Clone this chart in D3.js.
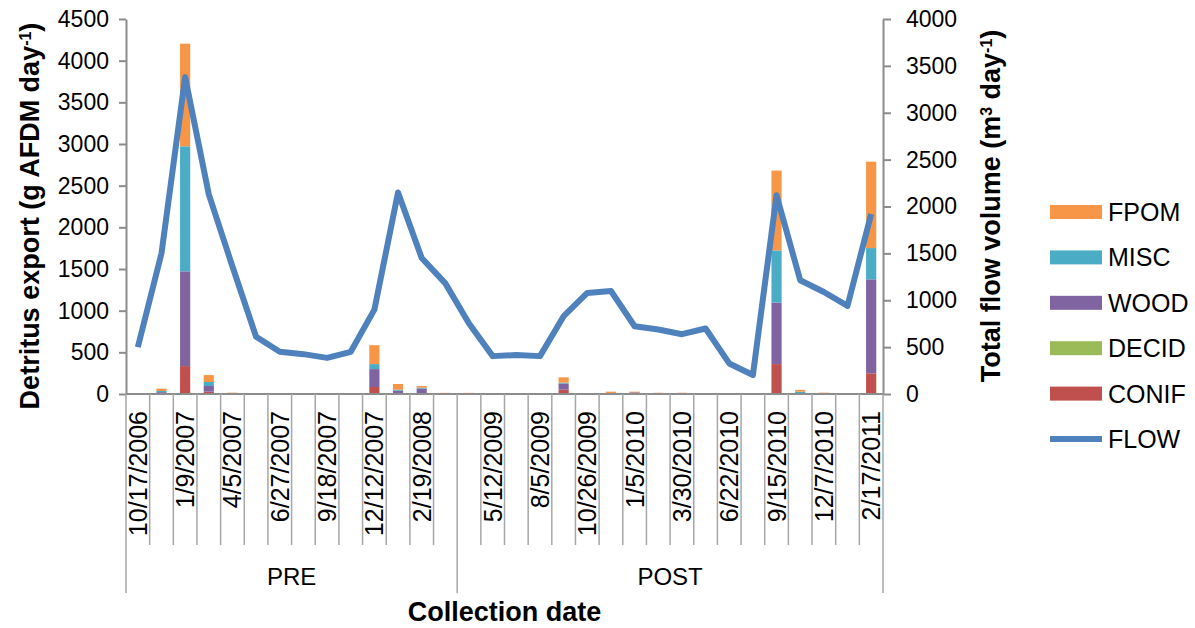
<!DOCTYPE html>
<html>
<head>
<meta charset="utf-8">
<script src="https://cdn.jsdelivr.net/npm/d3@7/dist/d3.min.js"></script>
<style>
  body { margin: 0; background: #fff; }
  text { font-family: "Liberation Sans", Arial, sans-serif; fill: #000; }
</style>
</head>
<body>
<svg id="mainSvg" width="1195" height="628"></svg>
<script>
// collection dates, every other one is printed on the axis
var dateLabels = ["10/17/2006","","1/9/2007","","4/5/2007","","6/27/2007","","9/18/2007","","12/12/2007","","2/19/2008","",
                  "","5/12/2009","","8/5/2009","","10/26/2009","","1/5/2010","","3/30/2010","","6/22/2010","","9/15/2010","","12/7/2010","","2/17/2011"];
var groupNames = ["PRE","POST"];
var groupSizes = [14,18];

// detritus export (g AFDM / day)
var conif = [0,6,335,28,0,0,0,0,0,0,84,10,8,0,0,0,0,0,52,0,0,2,0,0,0,0,0,359,4,0,0,248];
var decid = [0,0,0,0,0,0,0,0,0,0,0,0,0,0,0,0,0,0,0,0,0,0,0,0,0,0,0,0,0,0,0,0];
var wood  = [0,16,1137,68,0,0,0,0,0,0,215,30,58,0,0,0,0,0,72,0,0,18,0,0,0,0,0,738,4,0,0,1128];
var misc  = [0,14,1500,48,0,0,0,0,0,0,60,12,10,0,0,0,0,0,12,0,0,0,0,0,0,0,0,626,20,0,0,375];
var fpom  = [0,28,1232,83,16,0,0,0,0,0,227,68,20,14,14,0,0,0,64,0,28,8,15,15,0,0,0,958,22,16,0,1037];

// total flow volume (m3 / day)
var flow = [500,1500,3380,2130,1360,610,450,425,385,450,900,2150,1450,1180,752,404,415,404,830,1078,1099,723,688,638,699,326,202,2120,1213,1088,940,1920];

var leftTicks = [0,500,1000,1500,2000,2500,3000,3500,4000,4500];
var rightTicks = [0,500,1000,1500,2000,2500,3000,3500,4000];

var seriesNames = ["CONIF","DECID","WOOD","MISC","FPOM"];
var seriesColors = {CONIF:"#C0504D", DECID:"#9BBB59", WOOD:"#8064A2", MISC:"#4BACC6", FPOM:"#F79646"};
var flowColor = "#4F81BD";
var axisColor = "#8c8c8c";

var plotLeft = 126, plotRight = 883, plotTop = 19, plotBottom = 394;

var svg = d3.select("#mainSvg");

var xScale = d3.scaleBand()
    .domain(d3.range(dateLabels.length))
    .range([plotLeft, plotRight])
    .padding(0);

var yLeft = d3.scaleLinear().domain([0,4500]).range([plotBottom, plotTop]);
var yRight = d3.scaleLinear().domain([0,4000]).range([plotBottom, plotTop]);

function drawBars(){
    var table = dateLabels.map(function(d,i){
        return {CONIF:conif[i], DECID:decid[i], WOOD:wood[i], MISC:misc[i], FPOM:fpom[i]};
    });
    var stacked = d3.stack().keys(seriesNames)(table);
    var barW = xScale.bandwidth() * 0.43;

    var layers = svg.selectAll(".layer")
        .data(stacked)
        .enter()
        .append("g")
        .attr("class","layer")
        .attr("fill",function(d){ return seriesColors[d.key]; });

    layers.selectAll("rect")
        .data(function(d){ return d; })
        .enter()
        .append("rect")
        .attr("x",function(d,i){ return xScale(i) + xScale.bandwidth()/2 - barW/2; })
        .attr("width",barW)
        .attr("y",function(d){ return yLeft(d[1]); })
        .attr("height",function(d){ return Math.max(0, yLeft(d[0]) - yLeft(d[1])); });
}

function drawFlow(){
    var line = d3.line()
        .x(function(d,i){ return xScale(i) + xScale.bandwidth()/2; })
        .y(function(d){ return yRight(d); });

    svg.append("path")
        .datum(flow)
        .attr("d",line)
        .attr("fill","none")
        .attr("stroke",flowColor)
        .attr("stroke-width",6)
        .attr("stroke-linejoin","round");
}

function drawAxes(){
    var leftAxis = svg.append("g")
        .attr("transform","translate(" + plotLeft + ",0)")
        .call(d3.axisLeft(yLeft).tickValues(leftTicks).tickFormat(d3.format("d")).tickSize(7).tickPadding(10).tickSizeOuter(0));
    var rightAxis = svg.append("g")
        .attr("transform","translate(" + plotRight + ",0)")
        .call(d3.axisRight(yRight).tickValues(rightTicks).tickFormat(d3.format("d")).tickSize(8).tickPadding(15).tickSizeOuter(0));

    [leftAxis, rightAxis].forEach(function(ax){
        ax.select(".domain").attr("stroke",axisColor).attr("stroke-width",2);
        ax.selectAll(".tick line").attr("stroke",axisColor).attr("stroke-width",2);
        ax.selectAll(".tick text")
            .attr("font-size","23px")
            .attr("font-family","Liberation Sans, Arial, sans-serif")
            .attr("fill","#000");
    });

    // category axis line
    svg.append("line")
        .attr("x1",plotLeft).attr("x2",plotRight)
        .attr("y1",plotBottom).attr("y2",plotBottom)
        .attr("stroke",axisColor)
        .attr("stroke-width",2);

    // inner category dividers
    var edges = d3.range(dateLabels.length + 1);
    svg.selectAll(".catTick")
        .data(edges)
        .enter()
        .append("line")
        .attr("class","catTick")
        .attr("x1",function(d){ return d < dateLabels.length ? xScale(d) : plotRight; })
        .attr("x2",function(d){ return d < dateLabels.length ? xScale(d) : plotRight; })
        .attr("y1",plotBottom)
        .attr("y2",545)
        .attr("stroke","#a6a6a6")
        .attr("stroke-width",1.5);

    svg.selectAll(".dateLabel")
        .data(dateLabels)
        .enter()
        .append("text")
        .attr("class","dateLabel")
        .attr("transform",function(d,i){
            return "translate(" + (xScale(i) + xScale.bandwidth()/2) + ",411) rotate(-90)";
        })
        .attr("dy","0.36em")
        .attr("text-anchor","end")
        .attr("font-size","25px")
        .text(function(d){ return d; });

    // group level
    var groupStarts = [];
    var acc = 0;
    groupSizes.forEach(function(s){ groupStarts.push(acc); acc += s; });

    var groupEdges = groupStarts.concat([acc]);
    svg.selectAll(".groupTick")
        .data(groupEdges)
        .enter()
        .append("line")
        .attr("class","groupTick")
        .attr("x1",function(d){ return d < dateLabels.length ? xScale(d) : plotRight; })
        .attr("x2",function(d){ return d < dateLabels.length ? xScale(d) : plotRight; })
        .attr("y1",545)
        .attr("y2",593)
        .attr("stroke","#a6a6a6")
        .attr("stroke-width",1.5);

    svg.selectAll(".groupLabel")
        .data(groupNames)
        .enter()
        .append("text")
        .attr("class","groupLabel")
        .attr("x",function(d,i){
            var a = xScale(groupStarts[i]);
            var b = xScale(groupStarts[i] + groupSizes[i] - 1) + xScale.bandwidth();
            return (a + b) / 2;
        })
        .attr("y",585)
        .attr("text-anchor","middle")
        .attr("font-size","24px")
        .text(function(d){ return d; });
}

function drawTitles(){
    var leftTitle = svg.append("text")
        .attr("transform","translate(39,216) rotate(-90)")
        .attr("text-anchor","middle")
        .attr("font-size","27px")
        .attr("font-weight","bold");
    leftTitle.append("tspan").text("Detritus export (g AFDM day");
    leftTitle.append("tspan").attr("baseline-shift","super").attr("font-size","16px").text("-1");
    leftTitle.append("tspan").text(")");

    var rightTitle = svg.append("text")
        .attr("transform","translate(1000,206) rotate(-90)")
        .attr("text-anchor","middle")
        .attr("font-size","27px")
        .attr("font-weight","bold");
    rightTitle.append("tspan").text("Total flow volume (m");
    rightTitle.append("tspan").attr("baseline-shift","super").attr("font-size","16px").text("3");
    rightTitle.append("tspan").text(" day");
    rightTitle.append("tspan").attr("baseline-shift","super").attr("font-size","16px").text("-1");
    rightTitle.append("tspan").text(")");

    svg.append("text")
        .attr("x",(plotLeft + plotRight)/2)
        .attr("y",621)
        .attr("text-anchor","middle")
        .attr("font-size","27px")
        .attr("font-weight","bold")
        .text("Collection date");
}

function drawLegend(){
    var legendItems = ["FPOM","MISC","WOOD","DECID","CONIF","FLOW"];
    var legendG = svg.append("g").attr("transform","translate(1050,212)");

    var items = legendG.selectAll(".legendItem")
        .data(legendItems)
        .enter()
        .append("g")
        .attr("class","legendItem")
        .attr("transform",function(d,i){ return "translate(0," + (i * 45.4) + ")"; });

    items.append("rect")
        .attr("x",0)
        .attr("y",function(d){ return d == "FLOW" ? -3 : -7; })
        .attr("width",52)
        .attr("height",function(d){ return d == "FLOW" ? 6 : 14; })
        .attr("fill",function(d){ return d == "FLOW" ? flowColor : seriesColors[d]; });

    items.append("text")
        .attr("x",58)
        .attr("y",0)
        .attr("dy","0.36em")
        .attr("font-size","25px")
        .text(function(d){ return d; });
}

drawBars();
drawFlow();
drawAxes();
drawTitles();
drawLegend();
</script>
</body>
</html>
